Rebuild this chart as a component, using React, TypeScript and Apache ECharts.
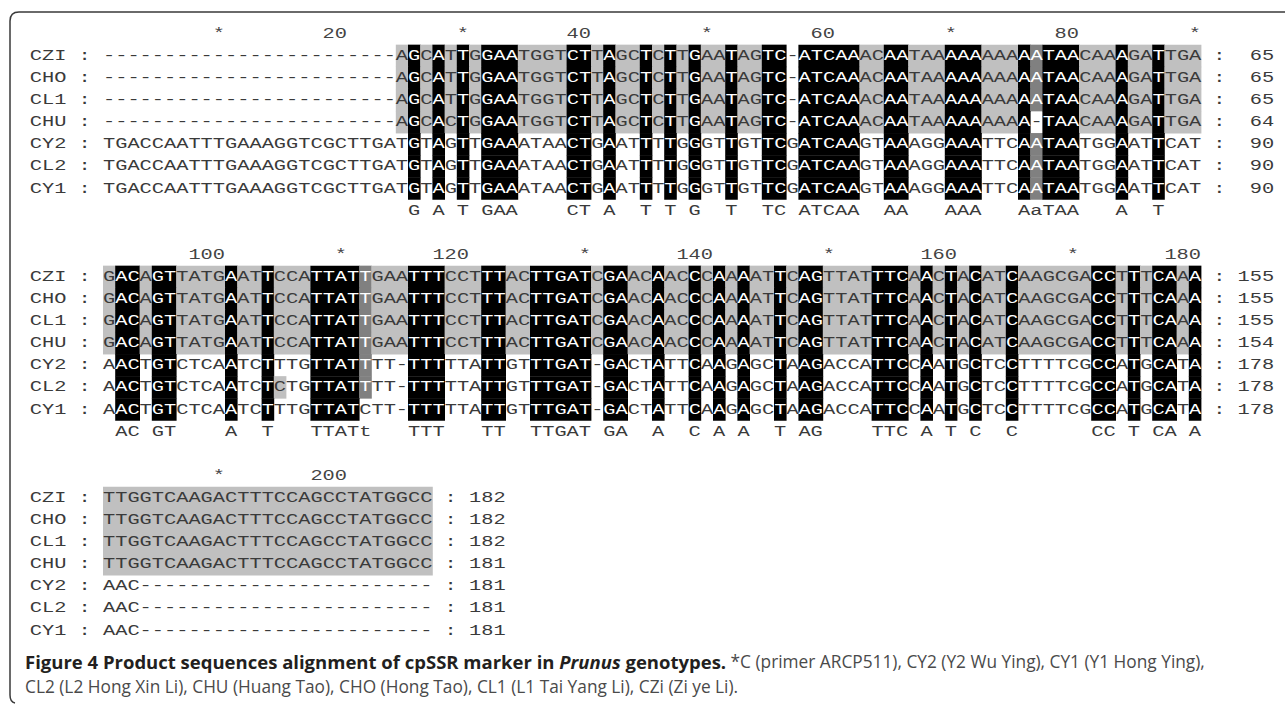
import React, { useEffect, useRef } from 'react';
import * as echarts from 'echarts';

// ---------------- data ----------------
const rowNames = ['CZI', 'CHO', 'CL1', 'CHU', 'CY2', 'CL2', 'CY1'];

// block 1 : alignment columns 1-90
const block1 = [
  '------------------------AGCATTGGAATGGTCTTAGCTCTTGAATAGTC-ATCAAACAATAAAAAAAAAATAACAAAGATTGA',
  '------------------------AGCATTGGAATGGTCTTAGCTCTTGAATAGTC-ATCAAACAATAAAAAAAAAATAACAAAGATTGA',
  '------------------------AGCATTGGAATGGTCTTAGCTCTTGAATAGTC-ATCAAACAATAAAAAAAAAATAACAAAGATTGA',
  '------------------------AGCACTGGAATGGTCTTAGCTCTTGAATAGTC-ATCAAACAATAAAAAAAAA-TAACAAAGATTGA',
  'TGACCAATTTGAAAGGTCGCTTGATGTAGTTGAAATAACTGAATTTTGGGTTGTTCGATCAAGTAAAGGAAATTCAATAATGGAATTCAT',
  'TGACCAATTTGAAAGGTCGCTTGATGTAGTTGAAATAACTGAATTTTGGGTTGTTCGATCAAGTAAAGGAAATTCAATAATGGAATTCAT',
  'TGACCAATTTGAAAGGTCGCTTGATGTAGTTGAAATAACTGAATTTTGGGTTGTTCGATCAAGTAAAGGAAATTCAATAATGGAATTCAT',
];

// block 2 : alignment columns 91-180
const block2 = [
  'GACAGTTATGAATTCCATTATTGAATTTCCTTTACTTGATCGAACAACCCAAAATTCAGTTATTTCAACTACATCAAGCGACCTTTCAAA',
  'GACAGTTATGAATTCCATTATTGAATTTCCTTTACTTGATCGAACAACCCAAAATTCAGTTATTTCAACTACATCAAGCGACCTTTCAAA',
  'GACAGTTATGAATTCCATTATTGAATTTCCTTTACTTGATCGAACAACCCAAAATTCAGTTATTTCAACTACATCAAGCGACCTTTCAAA',
  'GACAGTTATGAATTCCATTATTGAATTTCCTTTACTTGATCGAACAACCCAAAATTCAGTTATTTCAACTACATCAAGCGACCTTTCAAA',
  'AACTGTCTCAATCTTTGTTATTTT-TTTTTATTGTTTGAT-GACTATTCAAGAGCTAAGACCATTCCAATGCTCCTTTTCGCCATGCATA',
  'AACTGTCTCAATCTCTGTTATTTT-TTTTTATTGTTTGAT-GACTATTCAAGAGCTAAGACCATTCCAATGCTCCTTTTCGCCATGCATA',
  'AACTGTCTCAATCTTTGTTATCTT-TTTTTATTGTTTGAT-GACTATTCAAGAGCTAAGACCATTCCAATGCTCCTTTTCGCCATGCATA',
];

// block 3 : alignment columns 181-207
const block3 = [
  'TTGGTCAAGACTTTCCAGCCTATGGCC',
  'TTGGTCAAGACTTTCCAGCCTATGGCC',
  'TTGGTCAAGACTTTCCAGCCTATGGCC',
  'TTGGTCAAGACTTTCCAGCCTATGGCC',
  'AAC------------------------',
  'AAC------------------------',
  'AAC------------------------',
];

const blocks = [block1, block2, block3];
const blockStarts = [0, 90, 180];

// cells that the original figure shades light grey beyond the plain identity count
const extraLightCells = [{ col: 29, rows: ['CZI', 'CHO', 'CL1', 'CHU'] }];

const captionBold = 'Figure 4 Product sequences alignment of cpSSR marker in ';
const captionItalic = 'Prunus';
const captionBold2 = ' genotypes.';
const captionRest1 = ' *C (primer ARCP511), CY2 (Y2 Wu Ying), CY1 (Y1 Hong Ying),';
const captionLine2 = 'CL2 (L2 Hong Xin Li), CHU (Huang Tao), CHO (Hong Tao), CL1 (L1 Tai Yang Li), CZi (Zi ye Li).';

// ---------------- derived ----------------
function shadeLevels(block: string[], start: number): number[][] {
  const n = block[0].length;
  const lv = block.map(() => new Array(n).fill(0));
  for (let c = 0; c < n; c++) {
    const counts: Record<string, number> = {};
    block.forEach((s) => {
      const ch = s[c];
      if (ch !== '-') counts[ch] = (counts[ch] || 0) + 1;
    });
    block.forEach((s, r) => {
      const ch = s[c];
      if (ch === '-') return;
      const k = counts[ch];
      lv[r][c] = k === 7 ? 3 : k === 6 ? 2 : k >= 4 ? 1 : 0;
    });
  }
  extraLightCells.forEach((e) => {
    const c = e.col - 1 - start;
    if (c >= 0 && c < n) {
      e.rows.forEach((name) => {
        const r = rowNames.indexOf(name);
        if (lv[r][c] === 0) lv[r][c] = 1;
      });
    }
  });
  return lv;
}

function consensus(block: string[]): string {
  const n = block[0].length;
  let out = '';
  for (let c = 0; c < n; c++) {
    const counts: Record<string, number> = {};
    block.forEach((s) => {
      const ch = s[c];
      if (ch !== '-') counts[ch] = (counts[ch] || 0) + 1;
    });
    let best = ' ';
    let bc = 0;
    Object.keys(counts).forEach((k) => {
      if (counts[k] > bc) {
        bc = counts[k];
        best = k;
      }
    });
    out += bc === 7 ? best : bc === 6 ? best.toLowerCase() : ' ';
  }
  return out;
}

const levels = blocks.map((b, i) => shadeLevels(b, blockStarts[i]));
const consensusLines = blocks.map((b) => consensus(b));
const cumulative: number[][] = (() => {
  const tot = rowNames.map(() => 0);
  return blocks.map((b) =>
    b.map((s, r) => {
      tot[r] += s.replace(/-/g, '').length;
      return tot[r];
    })
  );
})();

const MONO = "'Liberation Mono', 'DejaVu Sans Mono', monospace";
const FS = 15.5;
const SHADE = ['', '#c0c0c0', '#808080', '#000000'];
const TXT_DARK = '#3a3a3a';
const CAP_FONT = "'Open Sans', 'Noto Sans', sans-serif";

export default function App() {
  const ref = useRef<HTMLDivElement>(null);

  useEffect(() => {
    document.body.style.margin = '0';
    if (!ref.current) return;
    const chart = echarts.init(ref.current, null, { renderer: 'svg' });

    echarts.graphic.registerShape(
      'frameLine',
      echarts.graphic.extendPath('M 1300 12 L 19 12 Q 10 12 10 21 L 10 695 Q 10 702 15 703', {})
    );

    const data: number[][] = [];
    blocks.forEach((_, b) => {
      for (let r = 0; r <= 8; r++) data.push([b, r]);
    });

    const renderItem = (params: any, api: any) => {
      const b = api.value(0);
      const r = api.value(1);
      const yRow = b * 10 + r;
      const block = blocks[b];
      const n = block[0].length;
      const start = blockStarts[b];
      const cw = Math.abs(api.size([1, 0])[0]);
      const rh = Math.abs(api.size([0, 1])[1]);
      const sx = cw / (0.6 * FS);
      const yc = api.coord([0, yRow])[1];
      const xAt = (v: number) => api.coord([v, yRow])[0];
      const children: any[] = [];
      const baseStyle = { fontFamily: MONO, fontSize: FS, verticalAlign: 'middle' };

      if (r === 0) {
        for (let c = 1; c <= n; c++) {
          const g = start + c;
          if (g % 10 !== 0) continue;
          const isNum = g % 20 === 0;
          children.push({
            type: 'text',
            x: isNum ? xAt(c + 0.5) : xAt(c),
            y: yc,
            scaleX: sx,
            style: { ...baseStyle, text: isNum ? String(g) : '*', fill: '#444', align: isNum ? 'right' : 'center' },
          });
        }
      } else if (r >= 1 && r <= 7) {
        const ri = r - 1;
        const s = block[ri];
        const lv = levels[b][ri];
        let c = 0;
        while (c < n) {
          const l = lv[c];
          let e = c;
          while (e + 1 < n && lv[e + 1] === l) e++;
          if (l > 0) {
            const x1 = xAt(c + 0.5);
            const x2 = xAt(e + 1.5);
            children.push({
              type: 'rect',
              shape: { x: x1, y: yc - rh / 2, width: x2 - x1 + 0.4, height: rh + 0.4 },
              style: { fill: SHADE[l] },
            });
          }
          c = e + 1;
        }
        let txt = '';
        c = 0;
        while (c < n) {
          const light = lv[c] >= 2;
          let e = c;
          while (e + 1 < n && lv[e + 1] >= 2 === light) e++;
          txt += '{' + (light ? 'w' : 'd') + '|' + s.slice(c, e + 1) + '}';
          c = e + 1;
        }
        children.push({
          type: 'text',
          x: xAt(0.5),
          y: yc,
          scaleX: sx,
          style: {
            ...baseStyle,
            text: txt,
            align: 'left',
            rich: {
              d: { fill: TXT_DARK, fontFamily: MONO, fontSize: FS },
              w: { fill: '#ffffff', fontFamily: MONO, fontSize: FS },
            },
          },
        });
        children.push({
          type: 'text',
          x: xAt(-5.5),
          y: yc,
          scaleX: sx,
          style: { ...baseStyle, text: rowNames[ri] + ' :', fill: TXT_DARK, align: 'left' },
        });
        children.push({
          type: 'text',
          x: xAt(n + 2),
          y: yc,
          scaleX: sx,
          style: { ...baseStyle, text: ':', fill: TXT_DARK, align: 'center' },
        });
        children.push({
          type: 'text',
          x: xAt(n + 6.5),
          y: yc,
          scaleX: sx,
          style: { ...baseStyle, text: String(cumulative[b][ri]), fill: TXT_DARK, align: 'right' },
        });
      } else if (r === 8) {
        const cons = consensusLines[b];
        let c = 0;
        while (c < n) {
          if (cons[c] === ' ') {
            c++;
            continue;
          }
          let e = c;
          while (e + 1 < n && cons[e + 1] !== ' ') e++;
          children.push({
            type: 'text',
            x: xAt(c + 0.5),
            y: yc,
            scaleX: sx,
            style: { ...baseStyle, text: cons.slice(c, e + 1), fill: TXT_DARK, align: 'left' },
          });
          c = e + 1;
        }
      }
      return { type: 'group', children };
    };

    const colW = 12.2;
    const rowH = 22.1;
    const firstColLeft = 103;
    const row0Center = 33.6;

    chart.setOption({
      animation: false,
      backgroundColor: '#ffffff',
      grid: {
        left: firstColLeft - 6 * colW,
        width: 102 * colW,
        top: row0Center - rowH / 2,
        height: 28 * rowH,
        containLabel: false,
      },
      xAxis: { type: 'value', min: -5.5, max: 96.5, show: false },
      yAxis: { type: 'value', min: -0.5, max: 27.5, inverse: true, show: false },
      series: [
        {
          type: 'custom',
          clip: false,
          silent: true,
          data,
          renderItem,
        },
      ],
      graphic: [
        {
          type: 'frameLine',
          x: 0,
          y: 0,
          silent: true,
          style: { stroke: '#3a3a3a', fill: 'none', lineWidth: 1.5 },
        },
        {
          type: 'text',
          x: 25,
          y: 661,
          silent: true,
          style: {
            text:
              '{b|' + captionBold + '}{bi|' + captionItalic + '}{b|' + captionBold2 + '}{r|' + captionRest1 + '}',
            verticalAlign: 'middle',
            align: 'left',
            lineHeight: 19,
            rich: {
              b: { fontFamily: CAP_FONT, fontWeight: 'bold', fontSize: 18.5, lineHeight: 19, fill: '#231f20' },
              bi: {
                fontFamily: CAP_FONT,
                fontWeight: 'bold',
                fontStyle: 'italic',
                fontSize: 18.5,
                lineHeight: 19,
                fill: '#231f20',
              },
              r: { fontFamily: CAP_FONT, fontSize: 17.3, lineHeight: 19, fill: '#4a4a4a' },
            },
          },
        },
        {
          type: 'text',
          x: 25,
          y: 686,
          silent: true,
          style: {
            text: captionLine2,
            verticalAlign: 'middle',
            align: 'left',
            fontFamily: CAP_FONT,
            fontSize: 17.3,
            lineHeight: 19,
            fill: '#4a4a4a',
          },
        },
      ],
    });

    return () => chart.dispose();
  }, []);

  return <div ref={ref} style={{ width: 1285, height: 705 }} />;
}
